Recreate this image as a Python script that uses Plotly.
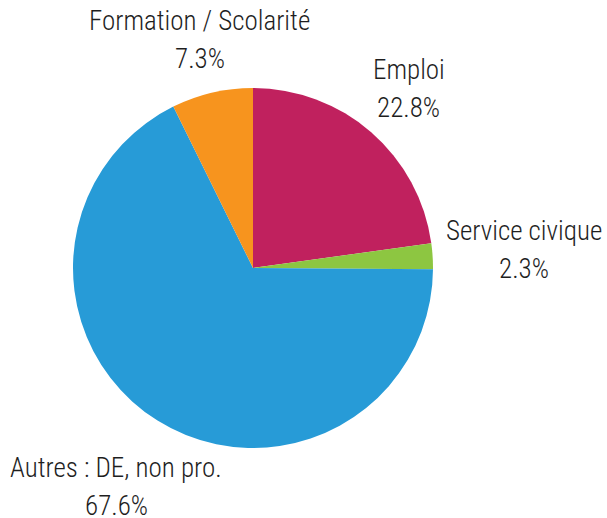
import math
import plotly.graph_objects as go

labels = ["Emploi", "Service civique", "Autres : DE, non pro.", "Formation / Scolarité"]
values = [22.8, 2.3, 67.6, 7.3]
colors = ["#C0215E", "#8DC641", "#279BD7", "#F7941E"]

W, H = 607, 518
CX, CY, R = 253, 268, 180          # pie centre / radius in pixels
FONT = "Roboto Condensed, Liberation Sans Narrow, Roboto"
FS = 27
LINE = 38                          # distance between the two text lines
GAP = 195                          # radius where the label box starts
CHAR_W = 10.2
HALF_H = 32

fig = go.Figure(go.Pie(
    labels=labels, values=values, sort=False, direction="clockwise", rotation=0,
    marker=dict(colors=colors, line=dict(width=0)),
    textinfo="none", automargin=False,
    domain=dict(x=[(CX - R) / W, (CX + R) / W], y=[1 - (CY + R) / H, 1 - (CY - R) / H]),
    showlegend=False, hoverinfo="label+percent",
))

total = sum(values)
cum = 0.0
for lab, v in zip(labels, values):
    mid = (cum + v / 2) / total * 2 * math.pi
    cum += v
    dx, dy = math.sin(mid), -math.cos(mid)
    pct = f"{v / total * 100:.1f}%"
    hw = max(len(lab), len(pct)) * CHAR_W / 2
    ell = math.hypot(hw * dx, HALF_H * dy)
    rect = min(hw / max(abs(dx), 1e-6), HALF_H / max(abs(dy), 1e-6))
    d = GAP + max(ell, rect)
    px, py = CX + d * dx, CY + d * dy
    for txt, off in ((lab, -LINE / 2), (pct, LINE / 2)):
        fig.add_annotation(
            x=px / W, y=1 - (py + off) / H, xref="paper", yref="paper",
            text=txt, showarrow=False, xanchor="center", yanchor="middle",
            font=dict(family=FONT, size=FS, color="#1e1e1e", weight=300),
        )

fig.update_layout(
    width=W, height=H,
    margin=dict(l=0, r=0, t=0, b=0, autoexpand=False),
    paper_bgcolor="white",
)
fig.write_html("out.html", config={"displayModeBar": False},
               post_script="document.body.style.margin='0';")
